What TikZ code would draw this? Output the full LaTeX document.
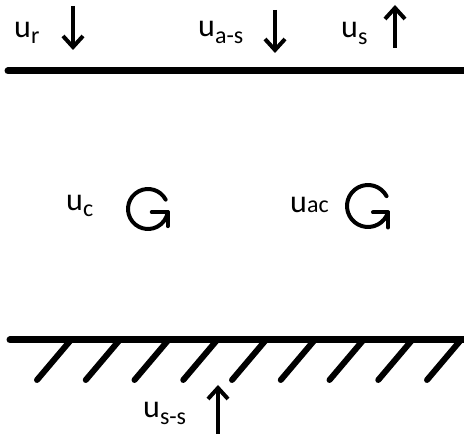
\documentclass[tikz,border=0pt]{standalone}
\usepackage{fontspec}
\setmainfont{Carlito}
\usetikzlibrary{arrows.meta}
\newcommand{\ulbl}[2][-6pt]{{\fontsize{32}{32}\selectfont u}\raisebox{#1}{\fontsize{24}{24}\selectfont #2}}
\begin{document}
\begin{tikzpicture}[x=1pt,y=-1pt,
  wall/.style={line width=7pt, line cap=round},
  hatchline/.style={line width=6pt, line cap=round},
  vec/.style={line width=4pt, -{Straight Barb[length=11pt,width=20pt]}},
  rot/.style={line width=4pt, line cap=round, line join=round},
  lab/.style={anchor=base west, inner sep=0pt, text=black}]
\useasboundingbox (0,0) rectangle (464,435);
% walls
\coordinate (tl) at (8,71);
\coordinate (tr) at (472,71);
\coordinate (bl) at (10,340);
\coordinate (br) at (472,340);
\draw[wall] (tl) -- (tr);
\draw[wall] (bl) -- (br);
\foreach \i in {0,...,8}
  \draw[hatchline] ({70+48.75*\i},341) -- ({37+48.75*\i},380);
% labels
\node[lab] (ur) at (14,38) {\ulbl{r}};
\node[lab] (uas) at (198,37) {\ulbl[-7pt]{a-s}};
\node[lab] (us) at (341,38) {\ulbl[-7pt]{s}};
\node[lab] (uc) at (66,211) {\ulbl{c}};
\node[lab] (uac) at (290,213) {\ulbl[0pt]{ac}};
\node[lab] (uss) at (143,418) {\ulbl[-7pt]{s-s}};
% translation arrows
\coordinate (a1s) at (73,6);   \coordinate (a1e) at (73,50);
\coordinate (a2s) at (275,10); \coordinate (a2e) at (275,53);
\coordinate (a3s) at (395,48); \coordinate (a3e) at (395,5);
\coordinate (a4s) at (218,434); \coordinate (a4e) at (218,385);
\draw[vec] (a1s) -- (a1e);
\draw[vec] (a2s) -- (a2e);
\draw[vec] (a3s) -- (a3e);
\draw[vec] (a4s) -- (a4e);
% rotation arrows
\coordinate (c1) at (148,209);
\coordinate (c2) at (368,206);
\draw[rot] (c1) ++(-28:20) arc[start angle=-28, end angle=-351, radius=20] coordinate (e1);
\draw[rot] ([xshift=-16pt]e1) -- (e1) -- ([yshift=-14pt]e1);
\draw[rot] (c2) ++(-28:21) arc[start angle=-28, end angle=-342, radius=21] coordinate (e2);
\draw[rot] ([xshift=-15pt]e2) -- (e2) -- ([yshift=-15pt]e2);
\end{tikzpicture}
\end{document}
